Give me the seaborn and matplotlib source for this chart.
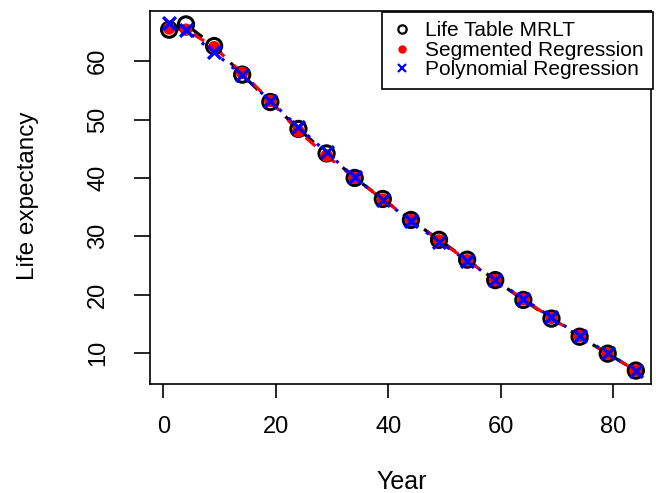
import matplotlib
matplotlib.use("Agg")
import matplotlib.pyplot as plt
from matplotlib.lines import Line2D
import seaborn as sns
import pandas as pd

years = [1, 4, 9, 14, 19, 24, 29, 34, 39, 44, 49, 54, 59, 64, 69, 74, 79, 84]
mrlt = [65.4, 66.3, 62.6, 57.7, 53.0, 48.4, 44.2, 40.0, 36.4, 32.8, 29.4, 26.0, 22.5, 19.1, 15.9, 12.8, 9.9, 7.0]
segmented = [65.6, 65.4, 62.4, 58.0, 53.2, 48.0, 43.8, 40.0, 36.3, 32.8, 29.3, 25.9, 22.5, 19.2, 16.0, 12.9, 9.9, 7.0]
polynomial = [66.5, 65.3, 61.5, 57.6, 53.2, 48.7, 44.4, 40.1, 36.3, 32.6, 29.1, 25.8, 22.5, 19.3, 16.1, 13.0, 10.0, 6.9]
labels = ["Life Table MRLT", "Segmented Regression", "Polynomial Regression"]
xticks = [0, 20, 40, 60, 80]
yticks = [10, 20, 30, 40, 50, 60]

sns.set_style("ticks")
plt.rcParams["font.family"] = ["Liberation Sans", "DejaVu Sans"]
plt.rcParams["text.color"] = "black"
plt.rcParams["axes.labelcolor"] = "black"
plt.rcParams["xtick.color"] = "black"
plt.rcParams["ytick.color"] = "black"

df = pd.DataFrame({"year": years, "mrlt": mrlt, "seg": segmented, "poly": polynomial})

fig = plt.figure(figsize=(6.56, 4.93), dpi=100)
ax = fig.add_axes([150 / 656, 1 - 384 / 493, 501 / 656, 373 / 493])

# lines
sns.lineplot(data=df, x="year", y="mrlt", ax=ax, color="black", sort=False, estimator=None,
             linewidth=2.3, linestyle=(0, (4, 4)), zorder=2)
sns.lineplot(data=df, x="year", y="seg", ax=ax, color="red", sort=False, estimator=None,
             linewidth=2.3, linestyle=(0, (4, 4)), zorder=2)
sns.lineplot(data=df, x="year", y="poly", ax=ax, color="blue", sort=False, estimator=None,
             linewidth=2.3, linestyle=(0, (1.0, 3.0)), zorder=2)

# markers
sns.scatterplot(data=df, x="year", y="mrlt", ax=ax, marker="o", s=120, facecolor="none",
                edgecolor="black", linewidth=2.2, zorder=3)
sns.scatterplot(data=df, x="year", y="seg", ax=ax, marker="o", s=80, color="red",
                edgecolor="none", zorder=4)
sns.scatterplot(data=df, x="year", y="poly", ax=ax, marker="x", s=85, color="blue",
                linewidth=2.4, zorder=5)

ax.set_xlim(-2.4, 86.7)
ax.set_ylim(4.7, 68.6)
ax.set_xticks(xticks)
ax.set_yticks(yticks)

for s in ax.spines.values():
    s.set_visible(True)
    s.set_color("black")
    s.set_linewidth(1.2)

ax.tick_params(axis="x", length=10, width=1.2, pad=13, labelsize=17, colors="black")
ax.tick_params(axis="y", length=11.5, width=1.2, pad=18, labelsize=17, colors="black",
               labelrotation=90)
for lab in ax.get_yticklabels():
    lab.set_va("center")

ax.set_xlabel("")
ax.set_ylabel("")
fig.text(402 / 656, 1 - 482 / 493, "Year", ha="center", va="center", fontsize=18, color="black")
fig.text(28 / 656, 1 - 196 / 493, "Life expectancy", ha="center", va="center",
         rotation=90, fontsize=17.5, color="black")

handles = [
    Line2D([], [], linestyle="none", marker="o", markerfacecolor="none", markeredgecolor="black",
           markersize=6, markeredgewidth=1.6),
    Line2D([], [], linestyle="none", marker="o", color="red", markersize=5),
    Line2D([], [], linestyle="none", marker="x", color="blue", markersize=6, markeredgewidth=1.6),
]
leg = fig.legend(handles, labels, loc="upper right",
                 bbox_to_anchor=(653 / 656, 1 - 12 / 493), bbox_transform=fig.transFigure,
                 fontsize=15, frameon=True, fancybox=False, shadow=False,
                 borderaxespad=0, handlelength=1.0, handletextpad=0.6,
                 labelspacing=0.02, borderpad=0.45)
leg.get_frame().set_edgecolor("black")
leg.get_frame().set_linewidth(1.2)
leg.get_frame().set_alpha(1)
for t in leg.get_texts():
    t.set_color("black")

fig.savefig("out.png", dpi=100)
